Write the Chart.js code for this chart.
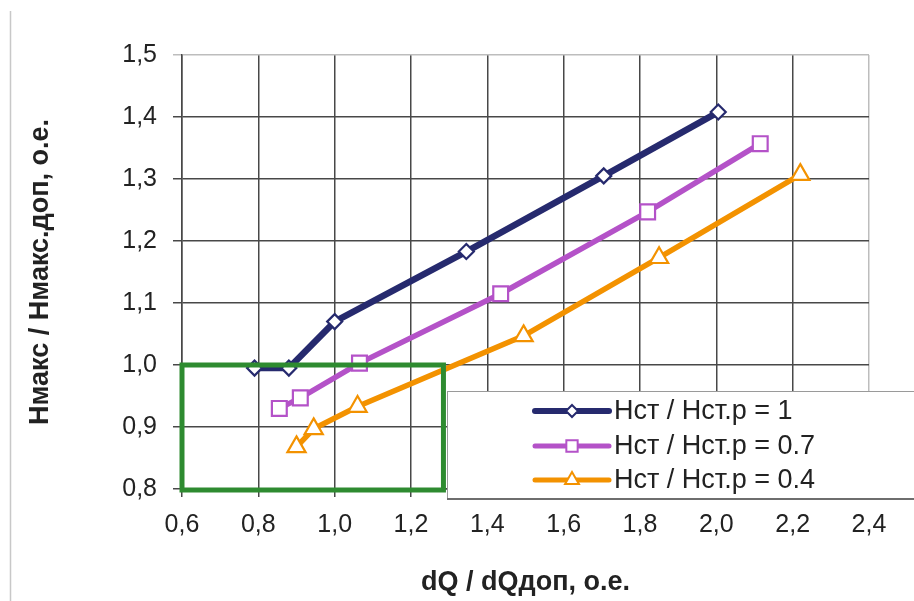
<!DOCTYPE html>
<html>
<head>
<meta charset="utf-8">
<script src="https://cdn.jsdelivr.net/npm/chart.js@4"></script>
<style>
  html, body { margin: 0; padding: 0; background: #ffffff; }
  canvas { display: block; }
</style>
</head>
<body>
<canvas id="c" width="914" height="601"></canvas>
<script>
// ---- data ----
const seriesNames = ['Нст / Нст.р = 1', 'Нст / Нст.р = 0.7', 'Нст / Нст.р = 0.4'];
const s1x = [0.79, 0.88, 1.0, 1.345, 1.705, 2.005];
const s1y = [0.995, 0.995, 1.07, 1.183, 1.305, 1.408];
const s2x = [0.855, 0.91, 1.065, 1.435, 1.82, 2.115];
const s2y = [0.93, 0.947, 1.003, 1.115, 1.247, 1.357];
const s3x = [0.9, 0.945, 1.06, 1.495, 1.85, 2.22];
const s3y = [0.868, 0.897, 0.933, 1.047, 1.173, 1.307];
const xTickLabels = ['0,6', '0,8', '1,0', '1,2', '1,4', '1,6', '1,8', '2,0', '2,2', '2,4'];
const yTickLabels = ['0,8', '0,9', '1,0', '1,1', '1,2', '1,3', '1,4', '1,5'];
const xTitle = 'dQ / dQдоп, о.е.';
const yTitle = 'Нмакс / Нмакс.доп, о.е.';
// highlighted region (green box) in data units
const boxX = [0.6, 1.285];
const boxY = [0.8, 1.0];

const colors = ['#262a6e', '#b452c8', '#f39200'];
const styles = ['rectRot', 'rect', 'triangle'];
const radii = [7.5, 10.5, 10.5];
const FONT = '"Liberation Sans", Arial, sans-serif';

function pts(xs, ys) { return xs.map((x, i) => ({ x: x, y: ys[i] })); }
const allX = [s1x, s2x, s3x], allY = [s1y, s2y, s3y];

const datasets = seriesNames.map((n, i) => ({
  label: n,
  data: pts(allX[i], allY[i]),
  borderColor: colors[i],
  backgroundColor: '#ffffff',
  borderWidth: i === 0 ? 6.5 : 5.5,
  pointStyle: styles[i],
  pointRadius: radii[i],
  pointBorderWidth: 2.2,
  pointBorderColor: colors[i],
  pointBackgroundColor: '#ffffff',
  tension: 0,
  showLine: true,
  clip: false
}));

function marker(ctx, style, x, y, r, color) {
  ctx.save();
  ctx.beginPath();
  if (style === 'rectRot') {
    ctx.moveTo(x, y - r); ctx.lineTo(x + r, y); ctx.lineTo(x, y + r); ctx.lineTo(x - r, y); ctx.closePath();
  } else if (style === 'rect') {
    const s = r * Math.SQRT1_2;
    ctx.rect(x - s, y - s, 2 * s, 2 * s);
  } else {
    ctx.moveTo(x, y - r);
    ctx.lineTo(x + r * Math.sin(2 * Math.PI / 3), y - r * Math.cos(2 * Math.PI / 3));
    ctx.lineTo(x + r * Math.sin(4 * Math.PI / 3), y - r * Math.cos(4 * Math.PI / 3));
    ctx.closePath();
  }
  ctx.fillStyle = '#ffffff';
  ctx.fill();
  ctx.lineWidth = 2;
  ctx.strokeStyle = color;
  ctx.stroke();
  ctx.restore();
}

const decor = {
  id: 'decor',
  beforeDraw(chart) {
    const ctx = chart.ctx;
    ctx.save();
    ctx.fillStyle = '#ffffff';
    ctx.fillRect(0, 0, chart.width, chart.height);
    ctx.strokeStyle = '#c8c8c8';
    ctx.lineWidth = 1.5;
    ctx.beginPath();
    ctx.moveTo(10.5, 11); ctx.lineTo(10.5, chart.height);
    ctx.stroke();
    ctx.restore();
  },
  afterDatasetsDraw(chart) {
    const ctx = chart.ctx, xs = chart.scales.x, ys = chart.scales.y;
    const l = xs.getPixelForValue(boxX[0]), r = xs.getPixelForValue(boxX[1]);
    const t = ys.getPixelForValue(boxY[1]), b = ys.getPixelForValue(boxY[0]);
    ctx.save();
    ctx.strokeStyle = '#2e8b30';
    ctx.lineWidth = 5;
    ctx.strokeRect(l, t, r - l, b - t + 1);
    ctx.restore();
  },
  afterDraw(chart) {
    const ctx = chart.ctx;
    // legend box
    const bx = 447, by = 391, bw = 480, bh = 107;
    ctx.save();
    ctx.fillStyle = '#ffffff';
    ctx.fillRect(bx, by, bw, bh);
    ctx.strokeStyle = '#9a9a9a';
    ctx.lineWidth = 1;
    ctx.strokeRect(bx + 0.5, by + 0.5, bw, bh);
    ctx.strokeStyle = '#6e6e6e';
    ctx.lineWidth = 2;
    ctx.beginPath();
    ctx.moveTo(bx, by + bh + 1); ctx.lineTo(bx + bw, by + bh + 1);
    ctx.stroke();
    const rows = [411, 446, 480];
    seriesNames.forEach((n, i) => {
      const y = rows[i];
      ctx.strokeStyle = colors[i];
      ctx.lineWidth = i === 0 ? 6 : 5;
      ctx.lineCap = 'round';
      ctx.beginPath();
      ctx.moveTo(535, y); ctx.lineTo(609, y);
      ctx.stroke();
      marker(ctx, styles[i], 572, y, [6, 8, 8][i], colors[i]);
      ctx.fillStyle = '#222222';
      ctx.font = '27px ' + FONT;
      ctx.textBaseline = 'middle';
      ctx.textAlign = 'left';
      ctx.fillText(n, 614, y + 1);
    });
    ctx.restore();
  }
};

const gridColor = (c) => (c.tick && (Math.abs(c.tick.value - 1.5) < 1e-6 || Math.abs(c.tick.value - 2.4) < 1e-6)) ? '#bdbdbd' : '#484848';

new Chart(document.getElementById('c'), {
  type: 'line',
  data: { datasets: datasets },
  plugins: [decor],
  options: {
    responsive: false,
    devicePixelRatio: 1,
    animation: false,
    parsing: true,
    layout: { padding: { left: 20, top: 55, right: 45, bottom: 2 } },
    plugins: { legend: { display: false }, tooltip: { enabled: false } },
    scales: {
      x: {
        type: 'linear',
        min: 0.6, max: 2.4,
        afterFit(s) { s.height = 110; },
        grid: { color: gridColor, lineWidth: 1.5, tickLength: 8, drawOnChartArea: true },
        border: { color: '#484848', width: 1.5 },
        ticks: {
          stepSize: 0.2,
          padding: 13,
          color: '#222222',
          font: { family: FONT, size: 25 },
          maxRotation: 0,
          callback(v) { const i = Math.round((v - 0.6) / 0.2); return xTickLabels[i]; }
        },
        title: {
          display: true, text: xTitle, color: '#222222',
          font: { family: FONT, size: 27, weight: 'bold' },
          padding: { top: 0, bottom: 0 }
        }
      },
      y: {
        type: 'linear',
        min: 0.8, max: 1.5,
        afterFit(s) { s.width = 162; },
        grid: { color: gridColor, lineWidth: 1.5, tickLength: 9 },
        border: { color: '#484848', width: 1.5 },
        ticks: {
          stepSize: 0.1,
          padding: 16,
          color: '#222222',
          font: { family: FONT, size: 25 },
          callback(v) { const i = Math.round((v - 0.8) / 0.1); return yTickLabels[i]; }
        },
        title: {
          display: true, text: yTitle, color: '#222222',
          font: { family: FONT, size: 27, weight: 'bold' },
          padding: { top: 4, bottom: 0 }
        }
      }
    }
  }
});
</script>
</body>
</html>
